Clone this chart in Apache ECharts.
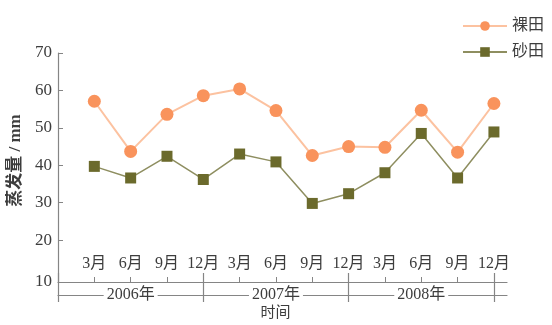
<!DOCTYPE html>
<html>
<head>
<meta charset="utf-8">
<script src="https://cdn.jsdelivr.net/npm/echarts@6/dist/echarts.min.js"></script>
<style>
  html, body { margin: 0; padding: 0; background: #fff; }
  #chart { width: 552px; height: 325px; }
</style>
</head>
<body>
<div id="chart"></div>
<script>
// data
var monthLabels = ['3月', '6月', '9月', '12月', '3月', '6月', '9月', '12月', '3月', '6月', '9月', '12月'];
var yearLabels = ['2006年', '2007年', '2008年'];
var luoTian = [57.1, 43.7, 53.6, 58.6, 60.4, 54.6, 42.6, 45.0, 44.8, 54.7, 43.5, 56.5];
var shaTian = [39.7, 36.6, 42.4, 36.2, 43.0, 40.9, 29.8, 32.4, 38.0, 48.5, 36.6, 48.9];
var yTicks = [10, 20, 30, 40, 50, 60, 70];

var font = "'Liberation Serif', 'Noto Sans CJK SC', serif";
var axisColor = '#858585';
var textColor = '#3d3d3d';

var yMin = 8.8; // the lowest label "10" sits on the x axis line
var xMax = 12.36;

function toPoints(values) {
  return values.map(function (v, i) { return [i + 1, v]; });
}

var monthIdx = monthLabels.map(function (m, i) { return i + 1; });
var minorTicks = monthIdx.filter(function (i) { return i % 4 !== 0; });
var yearIdx = yearLabels.map(function (y, i) { return i * 4 + 2; });
var yearBounds = [0, 4, 8, 12];

var myChart = echarts.init(document.getElementById('chart'));
var option = {
  animation: false,
  backgroundColor: '#fff',
  grid: { left: 58, right: 45, top: 53, bottom: 43, outerBoundsMode: 'none' },
  legend: {
    orient: 'vertical',
    right: 3,
    top: 13,
    itemWidth: 44,
    itemHeight: 12,
    itemGap: 10,
    textStyle: { fontSize: 16, color: textColor, fontFamily: font, lineHeight: 16 },
    data: ['裸田', '砂田']
  },
  xAxis: [
    {
      type: 'value',
      min: 0,
      max: xMax,
      splitLine: { show: false },
      axisLine: { lineStyle: { color: axisColor, width: 1.2 } },
      axisTick: {
        inside: true,
        length: 5,
        customValues: minorTicks,
        lineStyle: { color: axisColor }
      },
      axisLabel: {
        inside: true,
        margin: 10,
        customValues: monthIdx,
        formatter: function (v) { return monthLabels[Math.round(v) - 1]; },
        fontSize: 16,
        color: textColor,
        fontFamily: font
      }
    },
    {
      type: 'value',
      min: 0,
      max: xMax,
      position: 'bottom',
      offset: 20,
      splitLine: { show: false },
      axisLine: { show: false },
      axisTick: {
        show: true,
        inside: true,
        length: 29,
        customValues: yearBounds,
        lineStyle: { color: axisColor, width: 1.2 }
      },
      axisLabel: { show: false },
      name: '时间',
      nameLocation: 'middle',
      nameGap: 11,
      nameTextStyle: { fontSize: 15, color: textColor, fontFamily: font, verticalAlign: 'middle', padding: [0, 14, 0, 0] }
    },
    {
      type: 'value',
      min: 0,
      max: xMax,
      position: 'bottom',
      offset: 13,
      splitLine: { show: false },
      axisLine: { show: true, lineStyle: { color: axisColor, width: 1.2 } },
      axisTick: { show: false },
      axisLabel: {
        customValues: yearIdx,
        formatter: function (v) { return yearLabels[(Math.round(v) - 2) / 4]; },
        margin: 0,
        verticalAlign: 'middle',
        backgroundColor: '#fff',
        padding: [0, 3],
        fontSize: 16,
        color: textColor,
        fontFamily: font
      }
    }
  ],
  yAxis: {
    type: 'value',
    min: yMin,
    max: 70,
    splitLine: { show: false },
    axisLine: { show: true, lineStyle: { color: axisColor, width: 1.2 } },
    axisTick: {
      show: true,
      inside: true,
      length: 5,
      customValues: yTicks.slice(1),
      lineStyle: { color: axisColor }
    },
    axisLabel: {
      customValues: [yMin].concat(yTicks.slice(1)),
      formatter: function (v) { return String(Math.round(v / 10) * 10); },
      margin: 6,
      fontSize: 17,
      color: textColor,
      fontFamily: font
    },
    name: '蒸发量 / mm',
    nameLocation: 'middle',
    nameGap: 30,
    nameTextStyle: { fontSize: 17, fontWeight: 'bold', color: textColor, fontFamily: font, padding: [0, 0, 0, 14] }
  },
  series: [
    {
      name: '裸田',
      type: 'line',
      data: toPoints(luoTian),
      symbol: 'circle',
      symbolSize: 13,
      itemStyle: { color: '#f9935c' },
      lineStyle: { color: '#fcc2a0', width: 2 }
    },
    {
      name: '砂田',
      type: 'line',
      data: toPoints(shaTian),
      symbol: 'rect',
      symbolSize: 11,
      itemStyle: { color: '#6b6a2c' },
      lineStyle: { color: '#8e8e60', width: 1.5 }
    }
  ]
};

option && myChart.setOption(option);
</script>
</body>
</html>
